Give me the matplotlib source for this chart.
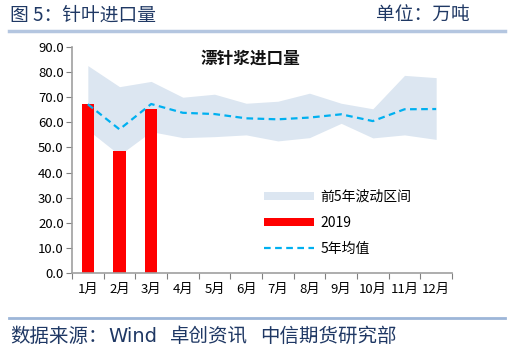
import matplotlib
matplotlib.use("Agg")
import matplotlib.pyplot as plt
from matplotlib.patches import Patch
from matplotlib.lines import Line2D
import numpy as np

plt.rcParams['font.family'] = ['Noto Sans CJK SC', 'DejaVu Sans']

months = ["1月", "2月", "3月", "4月", "5月", "6月", "7月", "8月", "9月", "10月", "11月", "12月"]
band_upper = [82.6, 74.2, 76.3, 70.0, 71.2, 67.6, 68.4, 71.6, 67.6, 65.4, 78.7, 77.8]
band_lower = [57.0, 47.0, 56.3, 53.9, 54.3, 55.0, 52.6, 53.9, 59.6, 53.8, 55.0, 53.2]
mean_5y = [67.2, 57.2, 67.3, 63.8, 63.3, 61.6, 61.2, 61.9, 63.2, 60.5, 65.2, 65.3]
values_2019 = [67.3, 48.6, 65.2]
yticks = [0, 10, 20, 30, 40, 50, 60, 70, 80, 90]

W, H = 511, 356
fig = plt.figure(figsize=(W / 100, H / 100), dpi=100)

ax = fig.add_axes([72 / W, 1 - 273 / H, (452 - 72) / W, (273 - 47) / H])
x = np.arange(len(months))

ax.fill_between(x, band_lower, band_upper, color='#DCE6F1', lw=0, zorder=1)
ax.bar(x[:len(values_2019)], values_2019, width=0.39, color='#FF0000', zorder=2)
ax.plot(x, mean_5y, color='#00B0F0', lw=1.6, ls=(0, (3, 2)), zorder=3)

ax.set_xlim(-0.5, len(months) - 0.5)
ax.set_ylim(0, 90)
ax.set_yticks(yticks)
ax.set_yticklabels([f"{v:.1f}" for v in yticks], fontsize=9.5)
ax.set_xticks(np.arange(-0.5, len(months), 1))
ax.set_xticklabels([])
ax.set_xticks(x, minor=True)
ax.set_xticklabels(months, minor=True, fontsize=9.5)
ax.tick_params(axis='x', which='major', length=4, color='#808080', direction='out')
ax.tick_params(axis='x', which='minor', length=0, pad=7)
ax.tick_params(axis='y', length=4, color='#808080', direction='out', pad=2)
for s in ['top', 'right']:
    ax.spines[s].set_visible(False)
for s in ['left', 'bottom']:
    ax.spines[s].set_color('#A0A0A0')
    ax.spines[s].set_linewidth(1.2)

ax.text(0.47, 0.95, "漂针浆进口量", transform=ax.transAxes, ha='center', va='center',
        fontsize=12, fontweight='bold', color='#111111')

handles = [Patch(facecolor='#DCE6F1', edgecolor='none'),
           Patch(facecolor='#FF0000', edgecolor='none'),
           Line2D([0], [0], color='#00B0F0', lw=1.6, ls=(0, (3, 2)))]
leg = ax.legend(handles, ["前5年波动区间", "2019", "5年均值"], loc='upper left',
                bbox_to_anchor=((264 - 72) / 380, (273 - 190) / 226), frameon=False,
                fontsize=10, handlelength=3.6, handleheight=0.5, labelspacing=0.85,
                handletextpad=0.45, borderaxespad=0, borderpad=0)

navy = '#1F3864'
fig.text(10 / W, 1 - 15 / H, "图 5：针叶进口量", fontsize=13.5, color=navy, va='center', ha='left')
fig.text(470 / W, 1 - 15 / H, "单位：万吨", fontsize=13.5, color=navy, va='center', ha='right')
fig.add_artist(Line2D([9 / W, 505 / W], [1 - 31 / H, 1 - 31 / H], color='#B4C6E0', lw=2.5))
fig.add_artist(Line2D([9 / W, 505 / W], [1 - 318 / H, 1 - 318 / H], color='#9DB6D8', lw=2))
fy = 1 - 336 / H
fig.text(10 / W, fy, "数据来源：", fontsize=14, color=navy, va='center', ha='left')
fig.text(108 / W, fy, "Wind", fontsize=14, color=navy, va='center', ha='left',
         family=['DejaVu Sans'])
fig.text(170 / W, fy, "卓创资讯", fontsize=14, color=navy, va='center', ha='left')
fig.text(260 / W, fy, "中信期货研究部", fontsize=14, color=navy, va='center', ha='left')

fig.savefig("out.png", dpi=100)
